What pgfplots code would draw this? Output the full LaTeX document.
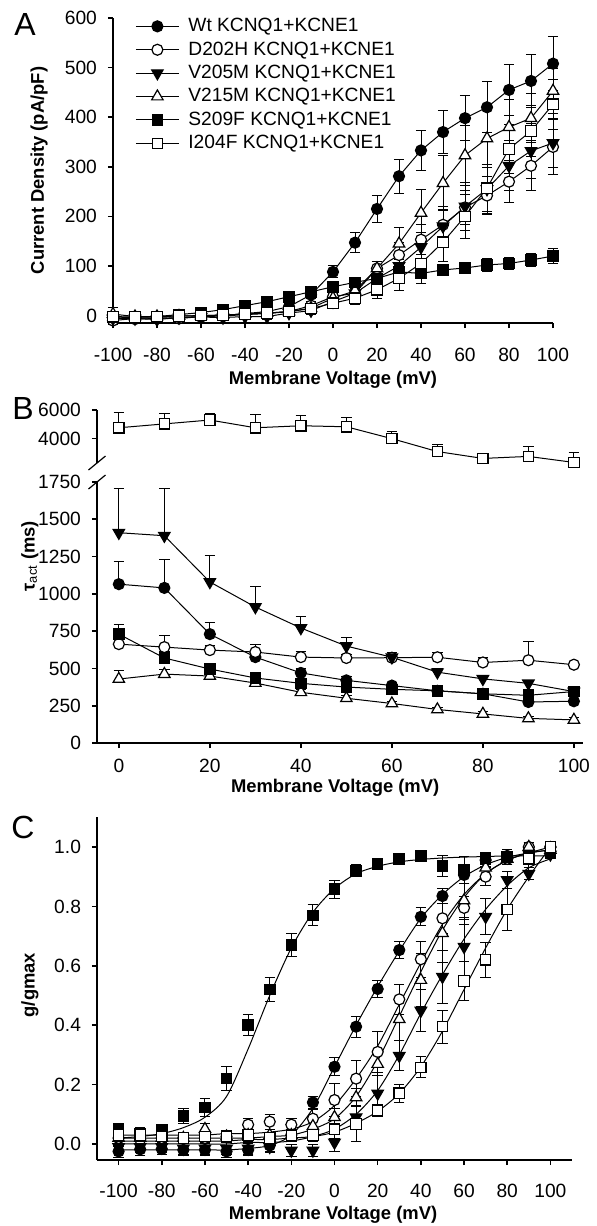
\documentclass[border=0pt]{standalone}
\usepackage{fontspec}
\setmainfont{Liberation Sans}
\usepackage{pgfplots}
\usepackage{pgfplotstable}
\pgfplotsset{compat=1.18}

% panel A: current density
\pgfplotstableread{
v    wt  wte  d   de  vf  vfe  vt  vte  s   se  i   ie
-100 -5  5   -10  8   -6  6    3   14  -3  5   -2  6
-90  -7  5   -6   6   -6  5   -2   6   -4  4   -3  5
-80  -6  6   -4   6   -8  5   -2   8   -2  4   -2  5
-70  -4  5   -6   6   -4  5   -1   6    2  4   -1  5
-60  -2  5   -2   5   -3  5    0   5    6  4    0  5
-50   0  5   -1   5   -4  5    1   5   12  4    1  5
-40   4  5    2   5   -2  5    3   5   20  5    3  5
-30   8  6    4   5   -2  5    5   6   28  6    5  6
-20  18  7    8   6    5  6    8   6   38  6    8  6
-10  42  8   20   8   10  8   15   8   48  7   14  8
0    88 12   38  10   28  9   35  10   58  8   25  8
10  147 20   45  12   45 10   50  12   67  8   35 12
20  215 28   95  15   75 15   95  15   75 10   52 18
30  281 34  122  25  100 20  145  32   88 10   75 25
40  333 40  153  30  138 30  207  48   85 10  105 40
50  370 44  183  30  180 40  267  55   92 11  148 38
60  398 46  218  35  220 48  323  60   96 12  200 44
70  420 51  242  38  255 50  357  58  102 13  257 48
80  455 52  270  42  302 50  380  55  105 13  336 50
90  473 54  302  50  332 55  398  50  112 14  372 52
100 508 55  340  55  348 50  453  45  120 15  426 50
}\tabA

% panel B: activation time constants (lower part)
\pgfplotstableread{
v    wt   wte  d    de   vf   vfe  vt   vte  s    se
0    1065 150  663  40   1410 295  429  60   730  65
10   1040 190  643  75   1390 315  462  30   570  45
20   730  75   623  30   1080 175  449  20   496  30
30   576  30   610  50   912  140  402  20   436  25
40   470  30   576  40   771  80   340  20   400  20
50   420  25   570  25   650  60   300  20   375  20
60   385  20   572  20   575  30   265  15   360  15
70   350  20   575  30   475  25   225  15   350  15
80   330  20   540  30   430  20   195  15   330  15
90   275  20   555  125  400  20   165  15   320  15
100  280  20   525  15   345  15   155  15   345  15
}\tabB

% panel B: I204F (upper part)
\pgfplotstableread{
v    i    ie
0    4760 1100
10   5030 700
20   5300 450
30   4760 960
40   4900 750
50   4830 620
60   4000 480
70   3100 490
80   2620 0
90   2760 690
100  2340 690
}\tabBi

% panel C: g/gmax data
\pgfplotstableread{
v    wt     wte   d     de    vf     vfe   vt    vte   s     se    i     ie
-100 -0.025 0.02  0.02  0.02  -0.01  0.02  0.02  0.03  0.05  0.02  0.03  0.02
-90  -0.018 0.02  0.015 0.02  -0.01  0.02  0.02  0.02  0.035 0.02  0.03  0.02
-80  -0.017 0.02  0.02  0.02  -0.01  0.02  0.02  0.02  0.047 0.02  0.025 0.02
-70  -0.02  0.02  0.02  0.02  -0.015 0.02  0.02  0.02  0.095 0.025 0.02  0.02
-60  -0.02  0.02  0.02  0.02  -0.015 0.02  0.05  0.02  0.123 0.03  0.025 0.02
-50  -0.025 0.02  0.025 0.02  -0.015 0.02  0.025 0.02  0.22  0.04  0.025 0.02
-40  -0.02  0.02  0.065 0.02  -0.015 0.02  0.03  0.02  0.40  0.035 0.03  0.02
-30  -0.005 0.02  0.075 0.025 -0.01  0.02  0.03  0.02  0.52  0.04  0.02  0.02
-20   0.03  0.02  0.065 0.02  -0.022 0.02  0.03  0.02  0.67  0.04  0.028 0.02
-10   0.14  0.02  0.085 0.03  -0.022 0.02  0.06  0.02  0.77  0.035 0.03  0.02
0     0.26  0.03  0.148 0.055  0.005 0.03  0.09  0.03  0.858 0.03  0.05  0.03
10    0.395 0.035 0.22  0.06   0.09  0.04  0.157 0.03  0.92  0.02  0.067 0.06
20    0.522 0.03  0.31  0.07   0.17  0.06  0.269 0.04  0.942 0.015 0.112 0.02
30    0.653 0.03  0.487 0.05   0.297 0.05  0.42  0.07  0.959 0.015 0.171 0.03
40    0.765 0.03  0.622 0.06   0.449 0.07  0.552 0.09  0.970 0.015 0.258 0.035
50    0.835 0.025 0.76  0.05   0.563 0.09  0.71  0.1   0.937 0.035 0.395 0.055
60    0.906 0.03  0.795 0.04   0.664 0.1   0.82  0.08  0.923 0.045 0.549 0.065
70    0.956 0.02  0.90  0.03   0.765 0.06  0.93  0.04  0.962 0.02  0.62  0.06
80    0.97  0.02  0.96  0.02   0.889 0.03  0.96  0.02  0.967 0.015 0.79  0.07
90    0.985 0.015 1.0   0.015  0.91  0.02  1.0   0.015 0.97  0.015 0.96  0.03
100   1.0   0.01  1.0   0.01   0.975 0.01  0.99  0.01  0.98  0.01  1.0   0.01
}\tabC

% panel C: Boltzmann fit curves as drawn
\pgfplotstableread{
v    fwt    fd     fvf    fvt    fs     fi
-100 -0.02  0.03   0.00   0.02   0.02   0.01
-90  -0.02  0.03   0.00   0.02   0.025  0.01
-80  -0.02  0.03   0.00   0.02   0.035  0.01
-70  -0.02  0.03   0.00   0.02   0.055  0.01
-60  -0.02  0.03   0.00   0.02   0.09   0.01
-50  -0.02  0.035  0.00   0.02   0.16   0.01
-40  -0.015 0.035  0.005  0.02   0.32   0.015
-30  -0.005 0.04   0.005  0.025  0.50   0.015
-20   0.03  0.05   0.01   0.03   0.66   0.02
-10   0.12  0.075  0.025  0.05   0.78   0.025
0     0.26  0.13   0.05   0.085  0.86   0.04
10    0.40  0.22   0.10   0.16   0.91   0.07
20    0.53  0.33   0.18   0.28   0.935  0.11
30    0.65  0.47   0.30   0.43   0.95   0.17
40    0.76  0.61   0.44   0.58   0.958  0.26
50    0.84  0.74   0.57   0.72   0.963  0.38
60    0.90  0.84   0.69   0.83   0.966  0.52
70    0.94  0.91   0.79   0.91   0.968  0.66
80    0.965 0.955  0.87   0.955  0.97   0.79
90    0.98  0.98   0.93   0.98   0.97   0.90
100   0.99  1.0    0.96   0.99   0.97   1.0
}\tabCfit

\pgfplotsset{
  panel/.style={
    scale only axis, clip=false,
    axis x line*=bottom, axis y line*=left,
    axis line style={line width=1pt, black},
    tick style={line width=0.8pt, black},
    tick align=outside, major tick length=2.5pt,
    /pgf/number format/assume math mode=true,
    /pgf/number format/1000 sep={},
    scaled ticks=false,
    tick label style={font=\fontsize{9.6}{11}\selectfont},
    xticklabel style={yshift=-2pt},
    yticklabel style={xshift=-2pt},
    label style={font=\bfseries\fontsize{9.2}{11}\selectfont},
  },
  base/.style={black, line width=0.5pt},
  swt/.style={base, mark=*, mark size=2.75pt, mark options={solid, fill=black, line width=0.6pt}},
  sd/.style={base, mark=*, mark size=2.75pt, mark options={solid, fill=white, line width=0.6pt}},
  svf/.style={base, mark=triangle*, mark size=3.3pt, mark options={solid, rotate=180, fill=black, line width=0.6pt}},
  svt/.style={base, mark=triangle*, mark size=3.3pt, mark options={solid, fill=white, line width=0.6pt}},
  ss/.style={base, mark=square*, mark size=2.6pt, mark options={solid, fill=black, line width=0.6pt}},
  si/.style={base, mark=square*, mark size=2.6pt, mark options={solid, fill=white, line width=0.6pt}},
  eb/.style={error bars/.cd, y dir=#1, y explicit,
    error bar style={line width=0.5pt, black},
    error mark options={rotate=90, mark size=2.6pt, line width=0.5pt, black}},
  legend image code/.code={\draw[mark repeat=2,mark phase=2,#1] plot coordinates {(0pt,0pt) (10.75pt,0pt) (21.5pt,0pt)};},
}

\begin{document}
\begin{tikzpicture}
\useasboundingbox (0,0) rectangle (298pt,-613pt);
\node[font=\fontsize{16}{16}\selectfont] at (12.5pt,-12pt) {A};
\node[font=\fontsize{16}{16}\selectfont] at (11.5pt,-204pt) {B};
\node[font=\fontsize{16}{16}\selectfont] at (11.5pt,-413.5pt) {C};

% ---------------- A
\begin{axis}[panel,
  at={(56.5pt,-161.5pt)}, anchor=south west,
  width=220pt, height=152.5pt,
  xmin=-100, xmax=100, ymin=-15, ymax=600,
  xtick={-100,-80,...,100}, ytick={0,100,...,600},
  xticklabel style={yshift=-4.5pt},
  xlabel={Membrane Voltage (mV)},
  ylabel={Current Density (pA/pF)},
  xlabel style={at={(axis description cs:0.5,-0.187)}, anchor=center},
  ylabel style={at={(axis description cs:-0.168,0.5)}, anchor=center},
  legend style={at={(0.05,1.009)}, anchor=north west, draw=none, fill=none,
    font=\fontsize{9.6}{11}\selectfont, inner sep=0pt, row sep=1pt, column sep=4pt,
    nodes={inner sep=0.5pt, text height=7.5pt, text depth=2.2pt}},
  legend cell align=left,
]
\addplot[swt, eb=both] table[x=v, y=wt, y error=wte] {\tabA};
\addlegendentry{Wt KCNQ1+KCNE1}
\addplot[sd, eb=both] table[x=v, y=d, y error=de] {\tabA};
\addlegendentry{D202H KCNQ1+KCNE1}
\addplot[svf, eb=both] table[x=v, y=vf, y error=vfe] {\tabA};
\addlegendentry{V205M KCNQ1+KCNE1}
\addplot[svt, eb=both] table[x=v, y=vt, y error=vte] {\tabA};
\addlegendentry{V215M KCNQ1+KCNE1}
\addplot[ss, eb=both] table[x=v, y=s, y error=se] {\tabA};
\addlegendentry{S209F KCNQ1+KCNE1}
\addplot[si, eb=both] table[x=v, y=i, y error=ie] {\tabA};
\addlegendentry{I204F KCNQ1+KCNE1}
\end{axis}

% ---------------- B upper
\begin{axis}[panel,
  at={(48.5pt,-231.5pt)}, anchor=south west,
  width=243pt, height=26.5pt,
  xmin=-4.8, xmax=102, ymin=2300, ymax=6000,
  axis x line=none, ytick={4000,6000},
]
\addplot[si, eb=plus] table[x=v, y=i, y error=ie] {\tabBi};
\draw[line width=0.6pt] (rel axis cs:0,0) ++(-4.25pt,-3.5pt) -- ++(8.5pt,7pt);
\end{axis}

% ---------------- B lower
\begin{axis}[panel,
  at={(48.5pt,-371.5pt)}, anchor=south west,
  width=243pt, height=130.5pt,
  xmin=-4.8, xmax=102, ymin=0, ymax=1750,
  xtick={0,20,...,100}, ytick={0,250,...,1750},
  xlabel={Membrane Voltage (mV)},
  ylabel={τ\textsubscript{\mdseries act} (ms)},
  xlabel style={at={(axis description cs:0.49,-0.172)}, anchor=center},
  ylabel style={at={(axis description cs:-0.138,0.716)}, anchor=center},
]
\addplot[swt, eb=plus] table[x=v, y=wt, y error=wte] {\tabB};
\addplot[sd, eb=plus] table[x=v, y=d, y error=de] {\tabB};
\addplot[svf, eb=plus] table[x=v, y=vf, y error=vfe] {\tabB};
\addplot[svt, eb=plus] table[x=v, y=vt, y error=vte] {\tabB};
\addplot[ss, eb=plus] table[x=v, y=s, y error=se] {\tabB};
\draw[line width=0.6pt] (rel axis cs:0,1) ++(-4.25pt,-3.5pt) -- ++(8.5pt,7pt);
\end{axis}

% ---------------- C
\begin{axis}[panel,
  at={(48.5pt,-580pt)}, anchor=south west,
  width=237.5pt, height=171.5pt,
  xmin=-110, xmax=110, ymin=-0.054, ymax=1.101,
  xtick={-100,-80,...,100}, ytick={0,0.2,0.4,0.6,0.8,1},
  xticklabel style={yshift=-4pt},
  yticklabel style={/pgf/number format/.cd, fixed, fixed zerofill, precision=1},
  xlabel={Membrane Voltage (mV)},
  ylabel={g/gmax},
  xlabel style={at={(axis description cs:0.497,-0.16)}, anchor=center},
  ylabel style={at={(axis description cs:-0.141,0.51)}, anchor=center},
]
\addplot[base, smooth, no marks] table[x=v, y=fwt] {\tabCfit};
\addplot[base, smooth, no marks] table[x=v, y=fd] {\tabCfit};
\addplot[base, smooth, no marks] table[x=v, y=fvf] {\tabCfit};
\addplot[base, smooth, no marks] table[x=v, y=fvt] {\tabCfit};
\addplot[base, smooth, no marks] table[x=v, y=fs] {\tabCfit};
\addplot[base, smooth, no marks] table[x=v, y=fi] {\tabCfit};
\addplot[swt, only marks, eb=both] table[x=v, y=wt, y error=wte] {\tabC};
\addplot[sd, only marks, eb=both] table[x=v, y=d, y error=de] {\tabC};
\addplot[svf, only marks, eb=both] table[x=v, y=vf, y error=vfe] {\tabC};
\addplot[svt, only marks, eb=both] table[x=v, y=vt, y error=vte] {\tabC};
\addplot[ss, only marks, eb=both] table[x=v, y=s, y error=se] {\tabC};
\addplot[si, only marks, eb=both] table[x=v, y=i, y error=ie] {\tabC};
\end{axis}
\end{tikzpicture}
\end{document}
